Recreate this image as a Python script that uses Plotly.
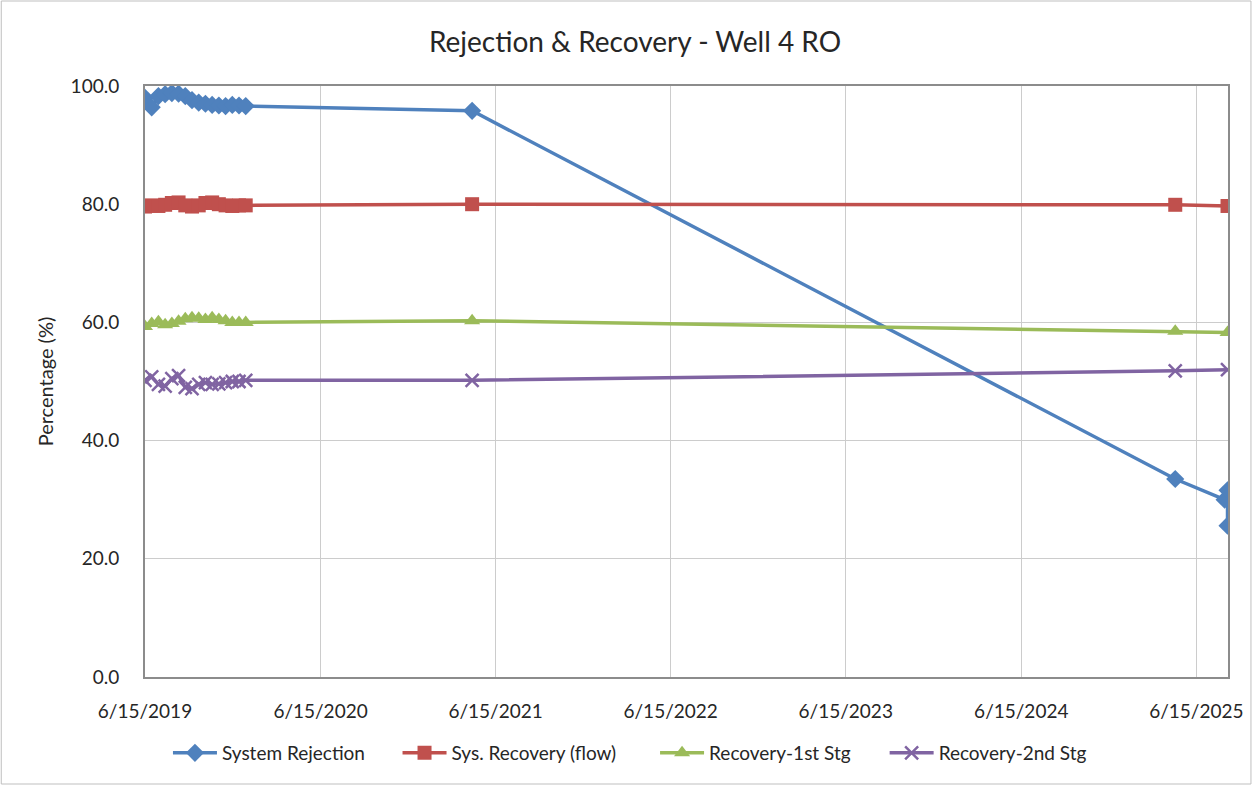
import plotly.graph_objects as go

# Sample dates (early biweekly readings, then sparse follow-ups)
dates = [
    "2019-06-15", "2019-06-29", "2019-07-13", "2019-07-27", "2019-08-10",
    "2019-08-24", "2019-09-07", "2019-09-21", "2019-10-05", "2019-10-19",
    "2019-11-02", "2019-11-16", "2019-11-30", "2019-12-14", "2019-12-28",
    "2020-01-11", "2021-04-27", "2025-05-02", "2025-08-13", "2025-08-19",
    "2025-08-19",
]

system_rejection = [
    98.0, 96.4, 98.3, 98.6, 98.8, 98.7, 98.3, 97.6, 97.2, 97.0,
    96.8, 96.7, 96.6, 96.8, 96.7, 96.6, 95.8, 33.5, 30.0, 31.6,
    25.6,
]
sys_recovery = [
    79.6, 79.8, 79.7, 79.9, 80.2, 80.3, 79.8, 79.6, 79.8, 80.2,
    80.3, 80.0, 79.8, 79.7, 79.8, 79.8, 80.0, 79.9, None, None,
    79.7,
]
recovery_1st = [
    59.3, 59.8, 60.1, 59.6, 59.8, 60.2, 60.6, 60.8, 60.7, 60.5,
    60.8, 60.5, 60.3, 60.0, 60.0, 60.0, 60.3, 58.5, None, None,
    58.3,
]
recovery_2nd = [
    50.2, 50.8, 49.5, 49.2, 50.5, 51.0, 49.0, 48.8, 49.5, 49.8,
    49.5, 49.6, 49.8, 50.0, 50.0, 50.2, 50.2, 51.8, None, None,
    52.0,
]

tick_dates = ["2019-06-15", "2020-06-15", "2021-06-15", "2022-06-15",
              "2023-06-15", "2024-06-15", "2025-06-15"]
tick_labels = ["6/15/2019", "6/15/2020", "6/15/2021", "6/15/2022",
               "6/15/2023", "6/15/2024", "6/15/2025"]

FONT = "Lato, Liberation Sans, sans-serif"
TEXT = "#262626"

W, H = 1255, 786
L, R, T, B = 145, 25, 86, 109
pw, ph = W - L - R, H - T - B

# (name, values, colour, marker, legend id, legend left edge in px)
series = [
    ("System Rejection", system_rejection, "#4F81BD",
     dict(symbol="diamond", size=14), "legend", 168),
    ("Sys. Recovery (flow)", sys_recovery, "#C0504D",
     dict(symbol="square", size=14), "legend2", 398),
    ("Recovery-1st Stg", recovery_1st, "#9BBB59",
     dict(symbol="triangle-up", size=14), "legend3", 656),
    ("Recovery-2nd Stg", recovery_2nd, "#8064A2",
     dict(symbol="x-thin", size=13, line=dict(width=2.5, color="#8064A2")),
     "legend4", 886),
]

fig = go.Figure()
legends = {}
for name, vals, color, marker, lg, lx in series:
    fig.add_trace(go.Scatter(
        x=dates, y=vals, name=name, mode="lines+markers",
        connectgaps=True, legend=lg,
        line=dict(color=color, width=3.5),
        marker=dict(color=color, **marker),
    ))
    legends[lg] = dict(
        orientation="h", x=(lx - L) / pw, xanchor="left",
        y=-(753 - (T + ph)) / ph, yanchor="middle",
        font=dict(size=19, color=TEXT), itemwidth=44,
        bgcolor="rgba(0,0,0,0)",
    )

fig.update_layout(
    width=W, height=H,
    margin=dict(l=L, r=R, t=T, b=B),
    paper_bgcolor="white", plot_bgcolor="white",
    font=dict(family=FONT, size=19, color=TEXT),
    title=dict(text="Rejection & Recovery - Well 4 RO",
               x=635 / W, xanchor="center", y=1 - 42 / H, yanchor="middle",
               font=dict(size=28, color=TEXT)),
    showlegend=True,
    xaxis=dict(
        type="date",
        range=["2019-06-15", "2025-08-20"],
        tickvals=tick_dates, ticktext=tick_labels,
        showgrid=True, gridcolor="#cccccc", gridwidth=1,
        showline=True, linecolor="#8c8c8c", linewidth=2, mirror=True,
        ticks="", ticklabelstandoff=16,
        tickfont=dict(size=19, color=TEXT),
        zeroline=False,
    ),
    yaxis=dict(
        range=[0, 100], dtick=20, tickformat=".1f",
        showgrid=True, gridcolor="#cccccc", gridwidth=1,
        showline=True, linecolor="#8c8c8c", linewidth=2, mirror=True,
        ticks="", ticklabelstandoff=20,
        tickfont=dict(size=19, color=TEXT),
        title=dict(text="Percentage (%)", font=dict(size=20, color=TEXT),
                   standoff=12),
        zeroline=False,
    ),
    **legends,
)

# Outer chart frame
fig.add_shape(type="rect", xref="paper", yref="paper",
              x0=-(L - 1) / pw, x1=(W - L - 2) / pw,
              y0=-(B - 2) / ph, y1=(T + ph - 1) / ph,
              line=dict(color="#bfbfbf", width=1), layer="below")

fig.write_html("out.html")
